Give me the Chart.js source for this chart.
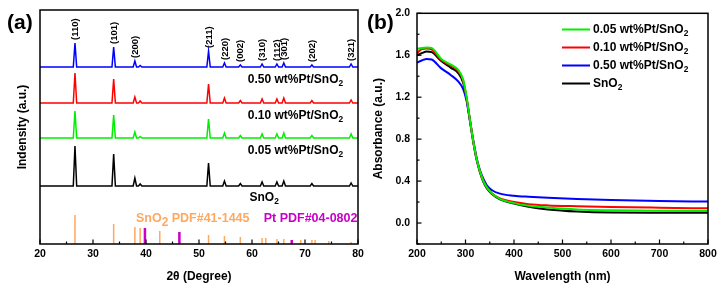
<!DOCTYPE html>
<html>
<head>
<meta charset="utf-8">
<script src="https://cdn.jsdelivr.net/npm/chart.js@4.4.1/dist/chart.umd.min.js"></script>
<style>
  html, body { margin: 0; padding: 0; background: #fff; }
  #wrap { position: relative; width: 721px; height: 288px; overflow: hidden; }
  canvas { position: absolute; top: 0; }
  #xrd { left: 0; }
  #uv { left: 362px; }
</style>
</head>
<body>
<div id="wrap">
  <canvas id="xrd" width="380" height="288"></canvas>
  <canvas id="uv" width="359" height="288"></canvas>
</div>
<script>
// ---- (a) XRD data ----
const xrdPeaks = [26.6, 33.9, 37.9, 38.9, 51.8, 54.8, 57.8, 61.9, 64.7, 66.0, 71.3, 78.7];
const millerLabels = ['(110)', '(101)', '(200)', '', '(211)', '(220)', '(002)', '(310)', '(112)', '(301)', '(202)', '(321)'];
const pt050 = [24, 20, 6, 1.5, 16, 4, 2, 3, 3, 4, 2, 3];
const pt010 = [30, 24, 6, 2, 19, 5, 2.5, 4, 4, 5, 2.5, 3];
const pt005 = [27, 23, 6, 1.5, 19, 5, 2.5, 4, 4, 5, 2.5, 4];
const sno2 = [40, 32, 8, 2, 23, 5, 2.5, 4, 4, 5, 2.5, 3];
const offsets = [177, 141, 106, 58]; // vertical stacking of 0.50, 0.10, 0.05, SnO2

const sno2RefPos = [26.6, 33.9, 37.9, 38.9, 42.6, 51.8, 54.8, 57.8, 61.9, 62.6, 64.7, 66.0, 69.2, 71.3, 71.9, 74.5, 78.7];
const sno2RefInt = [29, 20, 17, 16, 13, 9, 8, 7, 6, 6, 5, 5, 4, 4, 4, 3, 2];
const ptRefPos = [39.8, 46.3, 67.5];
const ptRefInt = [16, 12, 4];

// ---- (b) UV-vis data ----
const wavelength = [200, 210, 220, 230, 250, 270, 285, 295, 302, 309, 316, 323, 330, 337, 344, 354, 371, 400, 430, 470, 530, 600, 700, 800];
const abs005 = [1.66, 1.67, 1.675, 1.67, 1.565, 1.51, 1.46, 1.37, 1.21, 0.99, 0.78, 0.61, 0.49, 0.40, 0.34, 0.285, 0.23, 0.19, 0.165, 0.148, 0.13, 0.122, 0.117, 0.115];
const abs010 = [1.62, 1.66, 1.665, 1.655, 1.555, 1.50, 1.45, 1.36, 1.20, 0.99, 0.78, 0.61, 0.49, 0.40, 0.34, 0.285, 0.235, 0.20, 0.18, 0.168, 0.16, 0.153, 0.146, 0.14];
const abs050 = [1.53, 1.55, 1.565, 1.56, 1.475, 1.41, 1.35, 1.28, 1.17, 0.98, 0.79, 0.62, 0.50, 0.42, 0.36, 0.315, 0.28, 0.26, 0.25, 0.24, 0.23, 0.22, 0.21, 0.205];
const absSnO2 = [1.60, 1.62, 1.635, 1.63, 1.545, 1.48, 1.43, 1.34, 1.19, 0.98, 0.77, 0.60, 0.48, 0.39, 0.33, 0.28, 0.225, 0.185, 0.155, 0.13, 0.11, 0.10, 0.098, 0.097];

const FONT = '"Liberation Sans", Arial, sans-serif';
Chart.defaults.font.family = FONT;
Chart.defaults.color = '#000';

// build a stacked pattern from the peak list
function patternPoints(heights, offset) {
    const pts = [{ x: 20, y: offset }];
    xrdPeaks.forEach((p, i) => {
        pts.push({ x: p - 0.32, y: offset }, { x: p, y: offset + heights[i] }, { x: p + 0.32, y: offset });
    });
    pts.push({ x: 80, y: offset });
    return pts;
}
function stickPoints(pos, ints) {
    const pts = [];
    pos.forEach((p, i) => pts.push({ x: p, y: 0 }, { x: p, y: ints[i] }, { x: p, y: null }));
    return pts;
}

// text with subscripts: parts = [[text, isSub], ...]
function drawRich(ctx, parts, x, y, size, color, align, subScale) {
    const sub = subScale || 0.7;
    let total = 0;
    parts.forEach(([t, s]) => {
        ctx.font = `bold ${s ? size * sub : size}px ${FONT}`;
        total += ctx.measureText(t).width;
    });
    let cx = align === 'right' ? x - total : align === 'center' ? x - total / 2 : x;
    ctx.fillStyle = color;
    ctx.textAlign = 'left';
    ctx.textBaseline = 'middle';
    parts.forEach(([t, s]) => {
        ctx.font = `bold ${s ? size * sub : size}px ${FONT}`;
        ctx.fillText(t, cx, s ? y + size * 0.32 : y);
        cx += ctx.measureText(t).width;
    });
}

function isMajor(v, step) {
    return Math.abs(v / step - Math.round(v / step)) < 1e-6;
}

// box frame + inward ticks
const framePlugin = {
    id: 'frame',
    afterDraw(chart, args, opts) {
        const { ctx, chartArea: a } = chart;
        ctx.save();
        ctx.strokeStyle = '#000';
        ctx.lineWidth = 1.5;
        ctx.strokeRect(a.left, a.top, a.right - a.left, a.bottom - a.top);
        ctx.lineWidth = 1.2;
        const xs = chart.scales.x;
        xs.ticks.forEach(t => {
            const px = xs.getPixelForValue(t.value);
            const len = isMajor(t.value, opts.xMajor) ? 4.5 : 2.5;
            ctx.beginPath(); ctx.moveTo(px, a.bottom); ctx.lineTo(px, a.bottom - len); ctx.stroke();
        });
        if (opts.yMajor) {
            const ys = chart.scales.y;
            ys.ticks.forEach(t => {
                const py = ys.getPixelForValue(t.value);
                const len = isMajor(t.value, opts.yMajor) ? 4.5 : 2.5;
                ctx.beginPath(); ctx.moveTo(a.left, py); ctx.lineTo(a.left + len, py); ctx.stroke();
            });
        }
        // axis titles
        ctx.fillStyle = '#000';
        ctx.font = `bold 12px ${FONT}`;
        ctx.textAlign = 'center';
        ctx.textBaseline = 'middle';
        ctx.fillText(opts.xTitle, (a.left + a.right) / 2, 277);
        ctx.save();
        ctx.translate(opts.yTitleX, (a.top + a.bottom) / 2);
        ctx.rotate(-Math.PI / 2);
        ctx.fillText(opts.yTitle, 0, 0);
        ctx.restore();
        // panel letter
        ctx.font = `bold 21px ${FONT}`;
        ctx.textAlign = 'left';
        ctx.fillText(opts.letter, opts.letterX, 23);
        ctx.restore();
    }
};

// labels for panel (a)
const xrdLabels = {
    id: 'xrdLabels',
    afterDatasetsDraw(chart) {
        const { ctx } = chart;
        const xs = chart.scales.x, ys = chart.scales.y;
        ctx.save();
        // Miller indices above the top pattern
        ctx.font = `bold 9.5px ${FONT}`;
        ctx.fillStyle = '#000';
        ctx.textBaseline = 'middle';
        ctx.textAlign = 'left';
        xrdPeaks.forEach((p, i) => {
            if (!millerLabels[i]) return;
            const px = xs.getPixelForValue(p);
            const py = ys.getPixelForValue(offsets[0] + pt050[i]) - 3;
            ctx.save();
            ctx.translate(px + 0.5, py);
            ctx.rotate(-Math.PI / 2);
            ctx.fillText(millerLabels[i], 0, 0);
            ctx.restore();
        });
        // sample names under each pattern
        const names = ['0.50 wt%Pt/SnO', '0.10 wt%Pt/SnO', '0.05 wt%Pt/SnO'];
        names.forEach((n, i) => {
            drawRich(ctx, [[n, false], ['2', true]], xs.getPixelForValue(77.2), ys.getPixelForValue(offsets[i]) + 12.5, 12, '#000', 'right');
        });
        drawRich(ctx, [['SnO', false], ['2', true]], xs.getPixelForValue(62.3), ys.getPixelForValue(offsets[3]) + 12, 12, '#000', 'center');
        // reference cards
        drawRich(ctx, [['SnO', false], ['2', true], [' PDF#41-1445', false]], xs.getPixelForValue(38.1), 219, 12.5, '#FFA860', 'left', 0.95);
        drawRich(ctx, [['Pt PDF#04-0802', false]], xs.getPixelForValue(62.2), 219, 12.5, '#C800C8', 'left');
        ctx.restore();
    }
};

// legend for panel (b)
const uvLegend = {
    id: 'uvLegend',
    afterDatasetsDraw(chart) {
        const { ctx } = chart;
        const items = [['0.05 wt%Pt/SnO', '#00EE00'], ['0.10 wt%Pt/SnO', '#FF0000'], ['0.50 wt%Pt/SnO', '#0000FF'], ['SnO', '#000000']];
        ctx.save();
        items.forEach(([t, c], i) => {
            const y = 29.5 + i * 18;
            ctx.strokeStyle = c;
            ctx.lineWidth = 2;
            ctx.beginPath(); ctx.moveTo(200, y); ctx.lineTo(228, y); ctx.stroke();
            drawRich(ctx, [[t, false], ['2', true]], 231, y, 12, '#000', 'left');
        });
        ctx.restore();
    }
};

const xrdColors = ['#0000FF', '#FF0000', '#00EE00', '#000000'];
const xrdSeries = [pt050, pt010, pt005, sno2];

new Chart(document.getElementById('xrd'), {
    type: 'line',
    data: {
        datasets: [
            ...xrdSeries.map((s, i) => ({
                data: patternPoints(s, offsets[i]),
                borderColor: xrdColors[i], borderWidth: 1.5, pointRadius: 0, tension: 0
            })),
            { data: stickPoints(sno2RefPos, sno2RefInt), borderColor: '#FFA860', borderWidth: 1.5, pointRadius: 0, tension: 0 },
            { data: stickPoints(ptRefPos, ptRefInt), borderColor: '#C800C8', borderWidth: 2.5, pointRadius: 0, tension: 0 }
        ]
    },
    options: {
        responsive: false, animation: false,
        layout: { padding: { top: 10, right: 22, bottom: 0, left: 0 } },
        plugins: {
            legend: { display: false }, tooltip: { enabled: false },
            frame: { xMajor: 10, xTitle: '2θ (Degree)', yTitle: 'Indensity (a.u.)', yTitleX: 22.5, letter: '(a)', letterX: 7 }
        },
        scales: {
            x: {
                type: 'linear', min: 20, max: 80,
                grid: { display: false, drawTicks: false },
                border: { display: false },
                ticks: { stepSize: 5, padding: 4, font: { size: 10.5, weight: 'bold' }, maxRotation: 0, autoSkip: false,
                    callback: v => isMajor(v, 10) ? String(v) : '' },
                afterFit: s => { s.height = 44; }
            },
            y: {
                type: 'linear', min: 0, max: 234,
                grid: { display: false, drawTicks: false },
                border: { display: false },
                ticks: { display: false },
                afterFit: s => { s.width = 40; }
            }
        }
    },
    plugins: [framePlugin, xrdLabels]
});

const uvColors = ['#00EE00', '#FF0000', '#0000FF', '#000000'];
const uvSeries = [abs005, abs010, abs050, absSnO2];

new Chart(document.getElementById('uv'), {
    type: 'line',
    data: {
        labels: wavelength,
        datasets: uvSeries.map((s, i) => ({
            data: s.map((v, j) => ({ x: wavelength[j], y: v })),
            borderColor: uvColors[i], borderWidth: 2, pointRadius: 0, cubicInterpolationMode: 'monotone'
        }))
    },
    options: {
        responsive: false, animation: false,
        layout: { padding: { top: 11, right: 13, bottom: 0, left: 0 } },
        plugins: {
            legend: { display: false }, tooltip: { enabled: false },
            frame: { xMajor: 100, yMajor: 0.4, xTitle: 'Wavelength (nm)', yTitle: 'Absorbance (a.u.)', yTitleX: 17, letter: '(b)', letterX: 5 }
        },
        scales: {
            x: {
                type: 'linear', min: 200, max: 800,
                grid: { display: false, drawTicks: false },
                border: { display: false },
                ticks: { stepSize: 50, padding: 4, font: { size: 10.5, weight: 'bold' }, maxRotation: 0, autoSkip: false,
                    callback: v => isMajor(v, 100) ? String(v) : '' },
                afterFit: s => { s.height = 44; }
            },
            y: {
                type: 'linear', min: -0.2, max: 2.0,
                grid: { display: false, drawTicks: false },
                border: { display: false },
                ticks: { stepSize: 0.2, padding: 7, font: { size: 10.5, weight: 'bold' }, autoSkip: false,
                    callback: v => (isMajor(v, 0.4) ? (Math.abs(v) < 1e-9 ? 0 : v).toFixed(1) : '') },
                afterFit: s => { s.width = 55; }
            }
        }
    },
    plugins: [framePlugin, uvLegend]
});
</script>
</body>
</html>
